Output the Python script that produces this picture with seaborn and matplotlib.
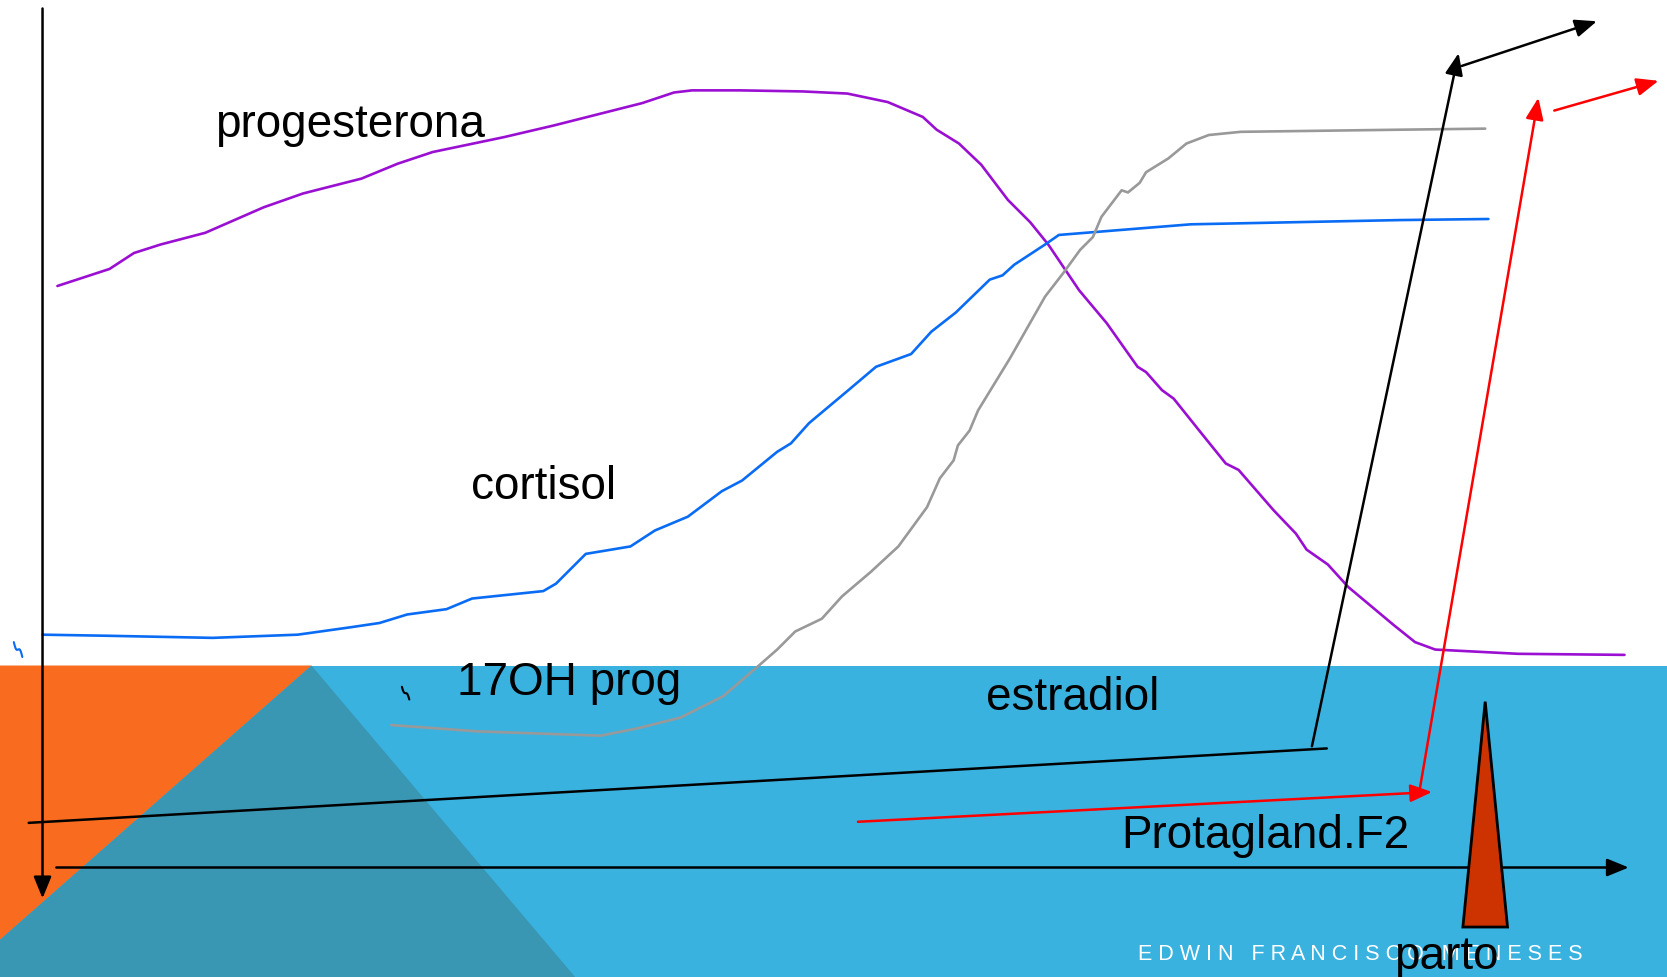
import matplotlib
matplotlib.use("Agg")
import matplotlib.pyplot as plt
import seaborn as sns
import pandas as pd
import numpy as np
from matplotlib.patches import Polygon, Rectangle

sns.set_theme(style="white")
plt.rcParams['font.family'] = ['Liberation Sans', 'DejaVu Sans']

# ---- hormone curves (x: time axis, y: level, drawing units, y grows downward) ----
prog_x = [54, 103, 126, 151, 193, 248, 285, 340, 374, 407, 474, 521, 604, 634, 651, 696,
          755, 797, 835, 868, 881, 902, 923, 948, 969, 986, 1015, 1041, 1070, 1078, 1093,
          1104, 1128, 1153, 1165, 1198, 1219, 1229, 1249, 1268, 1311, 1331, 1350, 1428, 1528]
prog_y = [269, 253, 238, 230, 219, 195, 182, 168, 154, 143, 129, 118, 97, 87, 85, 85,
          86, 88, 96, 110, 122, 135, 155, 188, 209, 230, 273, 304, 345, 350, 367,
          375, 405, 436, 442, 480, 502, 517, 531, 552, 588, 604, 611, 615, 616]

cort_x = [40, 100, 200, 280, 330, 357, 383, 420, 444, 511, 523, 551, 593, 616, 647, 679,
          698, 731, 744, 761, 798, 824, 857, 876, 899, 931, 943, 954, 983, 996, 1120, 1317, 1400]
cort_y = [597, 598, 600, 597, 590, 586, 578, 573, 563, 556, 549, 521, 514, 499, 486, 462,
          452, 425, 417, 398, 367, 345, 333, 312, 294, 263, 259, 249, 230, 221, 211, 207, 206]

estr_x = [368, 450, 565, 600, 640, 680, 715, 731, 748, 773, 792, 819, 845, 872, 884, 897,
          901, 912, 920, 950, 983, 1000, 1016, 1028, 1036, 1055, 1061, 1072, 1078, 1099,
          1116, 1137, 1167, 1317, 1397]
estr_y = [682, 688, 692, 685, 675, 655, 625, 611, 594, 582, 561, 538, 514, 477, 450, 433,
          419, 405, 386, 337, 279, 257, 235, 223, 204, 179, 181, 172, 162, 149,
          135, 127, 124, 122, 121]

labels = ["progesterona", "cortisol", "17OH prog", "estradiol", "Protagland.F2", "parto"]
label_x = [202, 443, 430, 927, 1055, 1311]
label_y = [118, 458, 642, 657, 786, 900]

W, H = 1568, 919
fig = plt.figure(figsize=(16.67, 9.77), dpi=100)
ax = fig.add_axes([0, 0, 1, 1])
ax.set_xlim(0, W)
ax.set_ylim(H, 0)
ax.axis("off")

# background slide design
band_top = 626
ax.add_patch(Rectangle((0, band_top), W, H - band_top, color="#3ab2e0", zorder=0, lw=0))
ax.add_patch(Polygon([(0, band_top), (293, band_top), (0, 884)], closed=True,
                     color="#f96b1e", zorder=0.5, lw=0))
ax.add_patch(Polygon([(293, band_top), (541, H), (0, H), (0, 884)], closed=True,
                     color="#3a97b4", zorder=0.6, lw=0))

df = pd.concat([
    pd.DataFrame({"x": prog_x, "y": prog_y, "h": "progesterona"}),
    pd.DataFrame({"x": cort_x, "y": cort_y, "h": "cortisol"}),
    pd.DataFrame({"x": estr_x, "y": estr_y, "h": "estradiol"}),
])
palette = {"progesterona": "#9a0fd2", "cortisol": "#0a6cf5", "estradiol": "#999999"}
sns.lineplot(data=df, x="x", y="y", hue="h", palette=palette, estimator=None,
             sort=False, lw=1.9, legend=False, ax=ax, zorder=3)
for ln in ax.get_lines():
    ln.set_solid_joinstyle("round")
    ln.set_solid_capstyle("round")

arrow_kw = dict(arrowstyle="-|>,head_length=1.1,head_width=0.45", lw=1.8,
                shrinkA=0, shrinkB=0)

def arrow(p0, p1, color, head=True):
    if head:
        ax.annotate("", xy=p1, xytext=p0, arrowprops=dict(color=color, **arrow_kw), zorder=4)
    else:
        ax.plot([p0[0], p1[0]], [p0[1], p1[1]], color=color, lw=1.8, zorder=4)

# axes arrows
arrow((40, 8), (40, 845), "black")
arrow((53, 816), (1532, 816), "black")
# black path
arrow((27, 774), (1248, 704), "black", head=False)
arrow((1234, 702), (1372, 50), "black")
arrow((1375, 62), (1502, 20), "black")
# red path
arrow((807, 773), (1347, 745), "red")
arrow((1335, 745), (1447, 92), "red")
arrow((1462, 104), (1560, 76), "red")

# parto triangle
ax.add_patch(Polygon([(1397, 660), (1418, 872), (1376, 872)], closed=True,
                     facecolor="#cc3300", edgecolor="black", lw=2, zorder=5))

# small squiggles
sq = np.linspace(0, 1, 12)
ax.plot(13 + 8 * sq, 604 + 14 * sq + 3 * np.sin(sq * np.pi * 2), color="#0a6cf5", lw=1.5, zorder=4)
ax.plot(378 + 7 * sq, 646 + 12 * sq + 2 * np.sin(sq * np.pi * 2), color="black", lw=1.5, zorder=4)

for t, x, y in zip(labels, label_x, label_y):
    ax.text(x, y, t, fontsize=33, color="black", ha="left", va="center", zorder=6)

ax.text(1070, 898, "E D W I N   F R A N C I S C O   M E N E S E S", fontsize=15.5,
        color="white", ha="left", va="center", zorder=5)

fig.savefig("out.png", dpi=100)
